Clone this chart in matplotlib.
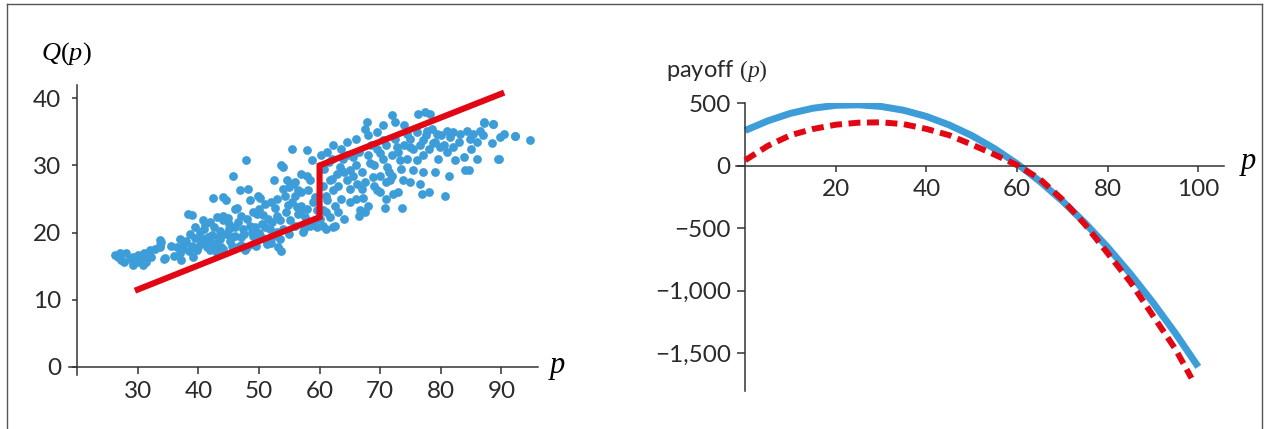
import numpy as np
import matplotlib
matplotlib.use("Agg")
from matplotlib import pyplot as plt
from matplotlib.lines import Line2D
from matplotlib.ticker import FixedLocator, FixedFormatter

plt.rcParams['font.family'] = ['Lato', 'DejaVu Sans']
plt.rcParams['mathtext.fontset'] = 'custom'
plt.rcParams['mathtext.rm'] = 'Liberation Serif'
plt.rcParams['mathtext.it'] = 'Liberation Serif:italic'

BLUE = '#3d9dd9'
RED = '#e30613'
AXIS = '#333333'

# observed (price, quantity) pairs
price = [26.2, 26.7, 27.3, 28.1, 28.7, 29.2, 29.8, 30.0, 30.6, 31.1, 31.4, 32.0, 32.2, 32.8,
         33.9, 33.6, 34.4, 29.2, 27.8, 30.9, 27.0, 31.7, 34.5, 33.7, 33.7,
         36.4, 36.9, 37.2, 37.7, 38.3, 38.9, 38.6, 39.1, 39.7, 40.2, 40.2, 40.8, 41.1, 41.3,
         41.6, 41.9, 42.2, 42.4, 42.7, 43.0, 43.3, 43.5, 43.8, 44.1, 44.1, 44.6, 44.9, 45.2,
         45.5, 45.7, 46.0, 46.3, 46.6, 46.8, 47.1, 47.4, 47.7, 47.9, 48.2, 48.5, 48.8, 49.0,
         49.3, 49.6, 49.9, 50.1, 50.4, 50.7, 51.0, 51.3, 51.5, 51.8, 52.1, 52.4, 52.6, 52.9,
         53.2, 53.5, 53.7, 54.0, 54.3, 54.6, 54.8, 55.1, 55.4, 55.7, 55.9, 56.2, 56.5, 56.8,
         57.0, 57.3, 57.6, 57.9, 58.1, 58.4, 58.7, 59.0, 59.2, 59.5,
         37.5, 38.0, 38.5, 39.0, 39.5, 40.0, 40.5, 41.0, 41.5, 42.0, 42.5, 43.0, 43.5, 44.0,
         44.5, 45.0, 45.5, 46.0, 46.5, 47.0, 47.5, 48.0, 48.5, 49.0, 49.5, 50.0, 50.5, 51.0,
         51.5, 52.0, 52.5, 53.0, 53.5, 54.0, 54.5, 55.0, 55.5, 56.0, 56.5, 57.0, 57.5, 58.0,
         58.5, 59.0, 59.5, 60.0, 60.5, 61.0, 42.0, 44.0, 46.0, 48.0, 50.0, 52.0, 54.0, 56.0,
         58.0, 57.0, 55.0, 53.0, 51.0, 49.0, 47.0, 45.0, 43.0, 41.0, 39.5, 36.0, 35.5, 37.0,
         53.7,
         62.3, 61.7, 60.6, 61.2, 62.3, 61.7, 62.8, 63.4, 62.3, 63.9, 64.5, 65.0, 65.6, 66.1,
         66.7, 67.2, 67.8, 68.3, 68.9, 69.4, 70.0, 70.5, 70.8, 71.1, 71.6, 71.9, 72.2, 72.7,
         73.3, 73.6, 73.8, 74.4, 74.9, 75.5, 76.0, 76.3, 76.6, 76.9, 77.1, 77.4, 78.2, 77.7,
         78.8, 79.3, 79.9, 80.7, 81.0, 81.3, 81.6, 82.1, 82.4, 83.2, 83.8, 84.0, 84.3, 84.6,
         84.9, 85.4, 86.0, 86.5, 87.1, 88.4, 88.7, 89.5, 89.8, 90.4, 92.3, 94.8, 89.6, 92.2,
         88.6, 87.2,
         60.5, 60.8, 61.0, 61.5, 62.0, 62.5, 63.0, 63.5, 64.0, 64.5, 65.0, 65.5, 66.0, 66.5,
         67.0, 67.5, 68.0, 68.5, 69.0, 69.5, 70.0, 70.5, 71.0, 71.5, 72.0, 72.5, 73.0, 73.5,
         74.0, 74.5, 75.0, 75.5, 76.0, 76.5, 77.0, 77.5, 78.0, 78.5, 79.0, 79.5, 80.0, 80.5,
         81.0, 82.0, 83.0, 85.0, 86.0, 87.0, 63.0, 64.0, 65.0, 66.0, 67.0, 68.0, 69.0, 70.0,
         71.0, 72.0, 64.5, 66.0, 68.0, 69.5, 62.0, 63.5, 60.2, 61.3, 67.5, 70.5, 72.5, 74.0,
         62.5, 61.0, 66.5, 67.5, 71.0, 73.0, 75.0, 77.0, 78.0, 79.0]
quantity = [16.6, 16.4, 15.9, 16.9, 16.1, 15.1, 15.6, 16.6, 15.9, 16.9, 15.6, 17.4, 16.4, 17.6,
            18.6, 17.9, 16.1, 16.4, 15.6, 15.1, 16.9, 16.6, 16.2, 18.1, 18.9,
            17.8, 16.9, 15.9, 18.3, 22.8, 22.6, 19.8, 16.4, 17.4, 19.1, 20.1, 21.8, 21.3, 18.3,
            19.3, 17.4, 19.6, 25.1, 18.3, 16.9, 19.3, 20.3, 17.9, 21.8, 25.3, 24.8, 22.1, 18.8,
            19.3, 28.5, 20.8, 23.6, 17.9, 26.3, 19.3, 20.6, 17.4, 30.8, 26.5, 24.8, 20.1, 18.3,
            20.8, 22.8, 25.5, 25.1, 19.3, 22.6, 20.8, 18.3, 18.8, 20.6, 21.6, 27.8, 23.6, 20.1,
            17.9, 21.8, 30.0, 29.8, 25.5, 27.8, 24.1, 21.8, 32.5, 27.3, 25.5, 23.8, 26.3, 23.1,
            28.8, 20.1, 22.3, 32.3, 26.3, 27.8, 30.8, 21.6, 25.3, 23.3,
            17.5, 18.8, 17.2, 18.0, 19.2, 17.8, 18.5, 20.5, 17.8, 18.8, 20.8, 18.0, 19.0, 17.5,
            19.8, 20.5, 18.0, 19.5, 21.5, 18.2, 19.8, 17.8, 21.0, 19.5, 18.0, 20.0, 21.2, 19.0,
            22.0, 18.5, 19.5, 22.5, 19.0, 20.5, 23.0, 19.8, 24.5, 21.0, 22.8, 24.0, 20.5, 23.5,
            21.0, 24.5, 20.8, 22.0, 21.0, 23.0, 21.5, 22.5, 23.5, 22.0, 23.5, 24.5, 26.5, 27.5,
            28.5, 26.0, 26.8, 25.0, 24.2, 23.0, 22.5, 21.2, 22.3, 19.0, 20.8, 16.5, 18.0, 19.0,
            17.3,
            20.8, 22.3, 23.3, 24.8, 26.3, 27.8, 28.8, 29.8, 33.0, 31.0, 27.8, 29.3, 31.3, 27.3,
            23.3, 25.1, 36.5, 30.3, 28.3, 26.3, 31.8, 33.8, 23.6, 29.8, 27.8, 37.5, 25.8, 32.8,
            30.8, 23.6, 27.8, 34.7, 32.8, 29.3, 30.8, 37.7, 27.3, 25.8, 33.8, 38.0, 37.7, 35.2,
            33.3, 34.7, 32.8, 25.5, 35.2, 28.5, 34.3, 32.8, 30.8, 34.7, 31.3, 29.3, 35.2, 29.3,
            34.0, 34.7, 31.0, 35.2, 36.5, 33.3, 36.2, 30.9, 34.3, 34.7, 34.4, 33.8, 30.9, 34.4,
            36.2, 36.4,
            27.0, 29.5, 25.5, 30.5, 28.0, 24.0, 27.0, 25.0, 29.0, 31.5, 26.5, 28.5, 30.0, 32.0,
            29.0, 27.5, 31.5, 33.0, 30.0, 32.5, 28.5, 31.0, 33.0, 29.0, 31.5, 34.0, 32.0, 29.5,
            33.0, 31.0, 34.0, 32.5, 35.0, 33.0, 31.5, 34.5, 32.5, 35.5, 33.5, 31.0, 34.5, 33.0,
            32.0, 35.0, 33.5, 32.5, 33.5, 34.5, 23.0, 22.0, 24.5, 25.0, 26.5, 24.0, 27.0, 26.0,
            27.5, 28.5, 33.5, 34.0, 34.5, 35.0, 31.0, 32.5, 31.5, 32.0, 35.5, 36.0, 36.5, 36.0,
            21.0, 20.5, 22.5, 23.0, 25.0, 26.0, 27.5, 29.0, 26.0, 29.0]

# step-shaped demand model
model_p = [30, 60, 60, 90]
model_q = [11.5, 22.3, 30.0, 40.7]

# payoff curves
payoff_p = [0, 5, 10, 15, 20, 25, 30, 35, 40, 45, 50, 55, 60, 65, 70, 75, 80, 85, 90, 95, 100]
payoff_solid = [283, 360, 420, 461, 484, 488, 475, 444, 395, 327, 242, 138, 16, -124, -282,
                -458, -652, -865, -1095, -1343, -1610]
dashed_p = [0, 5, 10, 15, 20, 25, 30, 35, 40, 45, 50, 55, 60, 65, 70, 75, 80, 85, 90, 95, 98.5]
payoff_dashed = [45, 160, 245, 295, 329, 345, 348, 333, 295, 245, 170, 90, 5, -105, -270,
                 -470, -700, -930, -1200, -1470, -1700]

W, H = 1267, 429
fig = plt.figure(figsize=(W / 100, H / 100), dpi=100)


def px_axes(x0, y0, x1, y1):
    return fig.add_axes([x0 / W, 1 - y1 / H, (x1 - x0) / W, (y1 - y0) / H])


def style(ax):
    for s in ['top', 'right']:
        ax.spines[s].set_visible(False)
    for s in ['left', 'bottom']:
        ax.spines[s].set_color(AXIS)
        ax.spines[s].set_linewidth(1.1)
    ax.tick_params(colors=AXIS, labelcolor='#2a2a2a', labelsize=17.5, width=1.1)


# left panel
ax1 = px_axes(69.3, 85.0, 538.3, 375.4)
ax1.scatter(price, quantity, s=40, color=BLUE, linewidths=0, zorder=2)
ax1.plot(model_p, model_q, color=RED, lw=4.4, solid_joinstyle='miter', zorder=3)
ax1.set_xlim(18.7, 96.1)
ax1.set_ylim(-1.3, 42)
ax1.spines['bottom'].set_position(('data', 0))
ax1.spines['left'].set_position(('data', 20))
ax1.set_xticks([30, 40, 50, 60, 70, 80, 90])
ax1.set_yticks([0, 10, 20, 30, 40])
ax1.tick_params(axis='x', length=5, pad=5)
ax1.tick_params(axis='y', length=3.6, pad=8)
style(ax1)
fig.text(66.7 / W, 1 - 54 / H, r'$Q(p)$', fontsize=19, ha='center', va='center')
fig.text(557 / W, 1 - 368 / H, r'$p$', fontsize=22, ha='center', va='center')

# right panel
ax2 = px_axes(736.2, 102.7, 1224.1, 391.4)
ax2.plot(payoff_p, payoff_solid, color=BLUE, lw=5, solid_capstyle='butt', zorder=2)
ax2.plot(dashed_p, payoff_dashed, color=RED, lw=4.3, dashes=(2, 1.1),
         dash_capstyle='butt', zorder=3)
ax2.set_xlim(-2, 105.7)
ax2.set_ylim(-1806, 505)
ax2.spines['bottom'].set_position(('data', 0))
ax2.spines['left'].set_position(('data', 0))
ax2.xaxis.set_major_locator(FixedLocator([20, 40, 60, 80, 100]))
ax2.yaxis.set_major_locator(FixedLocator([-1500, -1000, -500, 0, 500]))
ax2.yaxis.set_major_formatter(FixedFormatter(['\u22121,500', '\u22121,000', '\u2212500', '0', '500']))
ax2.tick_params(axis='x', length=4.5, pad=5)
ax2.tick_params(axis='y', length=6, pad=4.5)
style(ax2)
fig.text(666 / W, 1 - 71 / H, r'payoff $(p)$', fontsize=17, ha='left', va='center',
         color='#2a2a2a')
fig.text(1248 / W, 1 - 164 / H, r'$p$', fontsize=22, ha='center', va='center')

# frame around the figure (open at the bottom)
for xs, ys in [([7 / W, 7 / W], [0, 1 - 3.5 / H]),
               ([7 / W, 1262 / W], [1 - 3.5 / H, 1 - 3.5 / H]),
               ([1262 / W, 1262 / W], [0, 1 - 3.5 / H])]:
    fig.add_artist(Line2D(xs, ys, color='#555555', lw=1.0))

fig.savefig('out.png', dpi=100)
